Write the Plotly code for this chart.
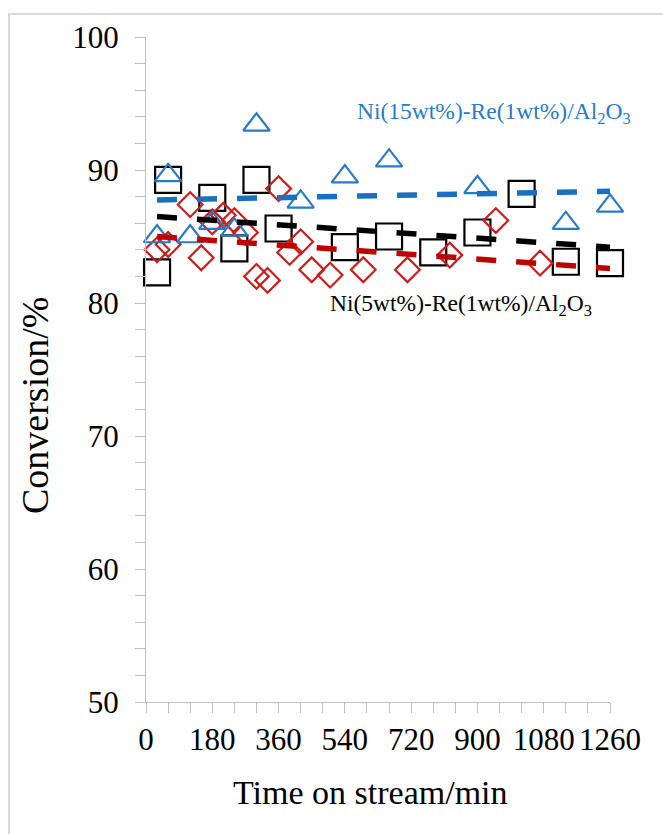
import plotly.graph_objects as go

# ---- data ----
x_ticks = [0, 180, 360, 540, 720, 900, 1080, 1260]

# Ni(15wt%)-Re(1wt%)/Al2O3  (blue triangles)
tri_x = [30, 60, 120, 180, 240, 300, 420, 540, 660, 900, 1140, 1260]
tri_y = [85.0, 89.6, 85.0, 86.0, 85.5, 93.4, 87.6, 89.5, 90.7, 88.7, 86.0, 87.3]

# Ni(5wt%)-Re(1wt%)/Al2O3  (black squares)
sq_x = [30, 60, 180, 240, 300, 360, 540, 660, 780, 900, 1020, 1140, 1260]
sq_y = [82.3, 89.25, 87.9, 84.1, 89.25, 85.6, 84.2, 85.0, 83.8, 85.3, 88.2, 83.1, 83.0]

# third catalyst (red diamonds)
dia_x = [30, 60, 120, 150, 180, 210, 240, 270, 300, 330, 360, 390, 420, 450,
         500, 590, 710, 825, 950, 1070]
dia_y = [84.0, 84.4, 87.4, 83.4, 86.1, 86.6, 86.2, 85.3, 82.0, 81.7, 88.6, 83.8,
         84.6, 82.5, 82.1, 82.5, 82.5, 83.6, 86.2, 83.0]

# linear trend lines (end values)
trend_x = [30, 1260]
trend_blue = [87.75, 88.4]
trend_black = [86.5, 84.2]
trend_red = [85.0, 82.6]

BLUE_M = "#2B7BC3"
BLUE_L = "#1A70BF"
RED_M = "#C81E1E"
RED_L = "#C00000"
BLACK = "#000000"
AXIS = "#BFBFBF"
SERIF = "Liberation Serif"

fig = go.Figure()

fig.add_trace(go.Scatter(x=sq_x, y=sq_y, mode="markers", cliponaxis=False,
                         marker=dict(symbol="square-open", size=26, color=BLACK,
                                     line=dict(width=2.2, color=BLACK))))
fig.add_trace(go.Scatter(x=dia_x, y=dia_y, mode="markers", cliponaxis=False,
                         marker=dict(symbol="diamond-open", size=19, color=RED_M,
                                     line=dict(width=2.2, color=RED_M))))
fig.add_trace(go.Scatter(x=tri_x, y=tri_y, mode="markers", cliponaxis=False,
                         marker=dict(symbol="triangle-up-open", size=23, color=BLUE_M,
                                     line=dict(width=2.2, color=BLUE_M))))

for ty, col in [(trend_blue, BLUE_L), (trend_black, BLACK), (trend_red, RED_L)]:
    fig.add_trace(go.Scatter(x=trend_x, y=ty, mode="lines", cliponaxis=False,
                             line=dict(color=col, width=5.5, dash="20px,20px")))

fig.update_layout(
    width=663, height=834,
    margin=dict(l=146, r=53, t=37, b=132),
    paper_bgcolor="white", plot_bgcolor="white",
    showlegend=False,
    font=dict(family=SERIF, color="black"),
    xaxis=dict(range=[0, 1260], tickvals=x_ticks, ticktext=[str(v) for v in x_ticks],
               showgrid=False, zeroline=False, showline=True, linecolor=AXIS, linewidth=1,
               ticks="outside", ticklen=10, tickcolor=AXIS, tickwidth=1,
               minor=dict(dtick=60, ticks="outside", ticklen=10, tickcolor=AXIS, tickwidth=1),
               tickfont=dict(family=SERIF, size=31, color="black")),
    yaxis=dict(range=[50, 100], dtick=10, tick0=50,
               showgrid=False, zeroline=False, showline=True, linecolor=AXIS, linewidth=1,
               ticks="outside", ticklen=10, tickcolor=AXIS, tickwidth=1,
               minor=dict(dtick=2, ticks="outside", ticklen=10, tickcolor=AXIS, tickwidth=1),
               tickfont=dict(family=SERIF, size=31, color="black"),
               ticklabelstandoff=10),
)

# outer frame
fig.add_shape(type="rect", xref="paper", yref="paper",
              x0=(9 - 146) / 464, x1=1.3, y0=-0.4, y1=(702 - 14) / 665,
              line=dict(color="#D9D9D9", width=2), fillcolor="rgba(0,0,0,0)", layer="below")

fig.add_annotation(text="Ni(15wt%)-Re(1wt%)/Al<sub>2</sub>O<sub>3</sub>", x=945, y=94.3,
                   xref="x", yref="y", showarrow=False,
                   font=dict(family=SERIF, size=23.5, color=BLUE_M))
fig.add_annotation(text="Ni(5wt%)-Re(1wt%)/Al<sub>2</sub>O<sub>3</sub>", x=855, y=79.85,
                   xref="x", yref="y", showarrow=False,
                   font=dict(family=SERIF, size=23.5, color=BLACK))
fig.add_annotation(text="Time on stream/min", xref="paper", yref="paper",
                   x=(370 - 146) / 464, y=(702 - 792) / 665, yanchor="middle",
                   showarrow=False, font=dict(family=SERIF, size=34, color="black"))
fig.add_annotation(text="Conversion/%", xref="paper", yref="paper", textangle=-90,
                   x=(35 - 146) / 464, y=(702 - 406) / 665, xanchor="center", yanchor="middle",
                   showarrow=False, font=dict(family=SERIF, size=38, color="black"))

fig.write_html("out.html")
